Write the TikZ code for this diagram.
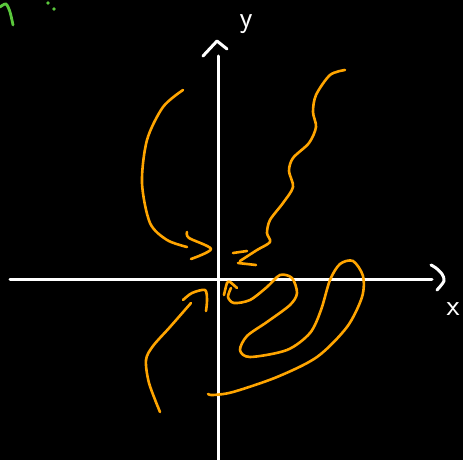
\documentclass[tikz,border=0pt]{standalone}
\definecolor{pen}{RGB}{255,165,0}
\definecolor{chalkgreen}{RGB}{90,200,60}
\begin{document}
\begin{tikzpicture}[x=1pt,y=-1pt,
  axis/.style={white,line width=3pt,line cap=round,line join=round},
  ink/.style={draw=pen,line width=2.6pt,line cap=round,line join=round},
  chalk/.style={draw=chalkgreen,line width=2.8pt,line cap=round},
  lbl/.style={white,font=\sffamily\fontsize{30}{30}\selectfont,inner sep=0pt}]
\fill[black] (0,0) rectangle (463,460);
\useasboundingbox (0,0) rectangle (463,460);
% green scribbles
\draw[chalk] plot[smooth] coordinates {(0,7) (6,4) (10,12) (13,25)};
\fill[chalkgreen] (48,3) circle (1.8) (54,9) circle (1.8);
% axes
\coordinate (xl) at (10,279);
\coordinate (xr) at (432,279);
\coordinate (yb) at (218,460);
\coordinate (yt) at (218,56);
\draw[axis] (xl) -- (xr);
\draw[axis] (yb) -- (yt);
\draw[axis] plot[smooth] coordinates {(431,265) (436,268) (442,274) (444,281) (437,290)};
\draw[axis] (203,56) -- (217,41) -- (227,49);
\node[lbl] (ylab) at (246,24) {y};
\node[lbl] (xlab) at (453,309) {x};
% left arrow curve
\draw[ink] plot[smooth] coordinates {(183,90) (163,107) (147,140) (142,183) (150,223) (167,240) (187,247)};
\draw[ink] plot[smooth] coordinates {(187,232) (189,238) (211,249) (191,259)};
% wavy curve with z
\draw[ink] plot[smooth] coordinates {(345,70) (330,75) (316,95) (313,112) (316,127) (309,143) (293,158) (289,171) (293,187) (283,203) (270,220) (267,233) (270,242) (257,250) (240,261)};
\draw[ink] (233,253) -- (247,251);
\draw[ink] (238,263) -- (256,265);
% spiral loop
\draw[ink] plot[smooth] coordinates {(224,295) (227,283) (230,282) (237,288)};
\draw[ink] plot[smooth] coordinates {(231,288) (228,297) (234,303) (250,300) (267,287) (280,275) (292,278) (297,293) (290,305) (267,322) (247,336) (240,350) (250,357) (287,350) (310,333) (321,310) (330,280) (340,264) (353,261) (363,276) (362,297) (347,327) (317,357) (277,377) (233,392) (213,395) (208,394)};
% bottom-left arrow
\draw[ink] plot[smooth] coordinates {(160,412) (149,383) (146,360) (153,346) (170,327) (191,303)};
\draw[ink] plot[smooth] coordinates {(183,300) (192,293) (205,290) (207,300) (206,311)};
\end{tikzpicture}
\end{document}
